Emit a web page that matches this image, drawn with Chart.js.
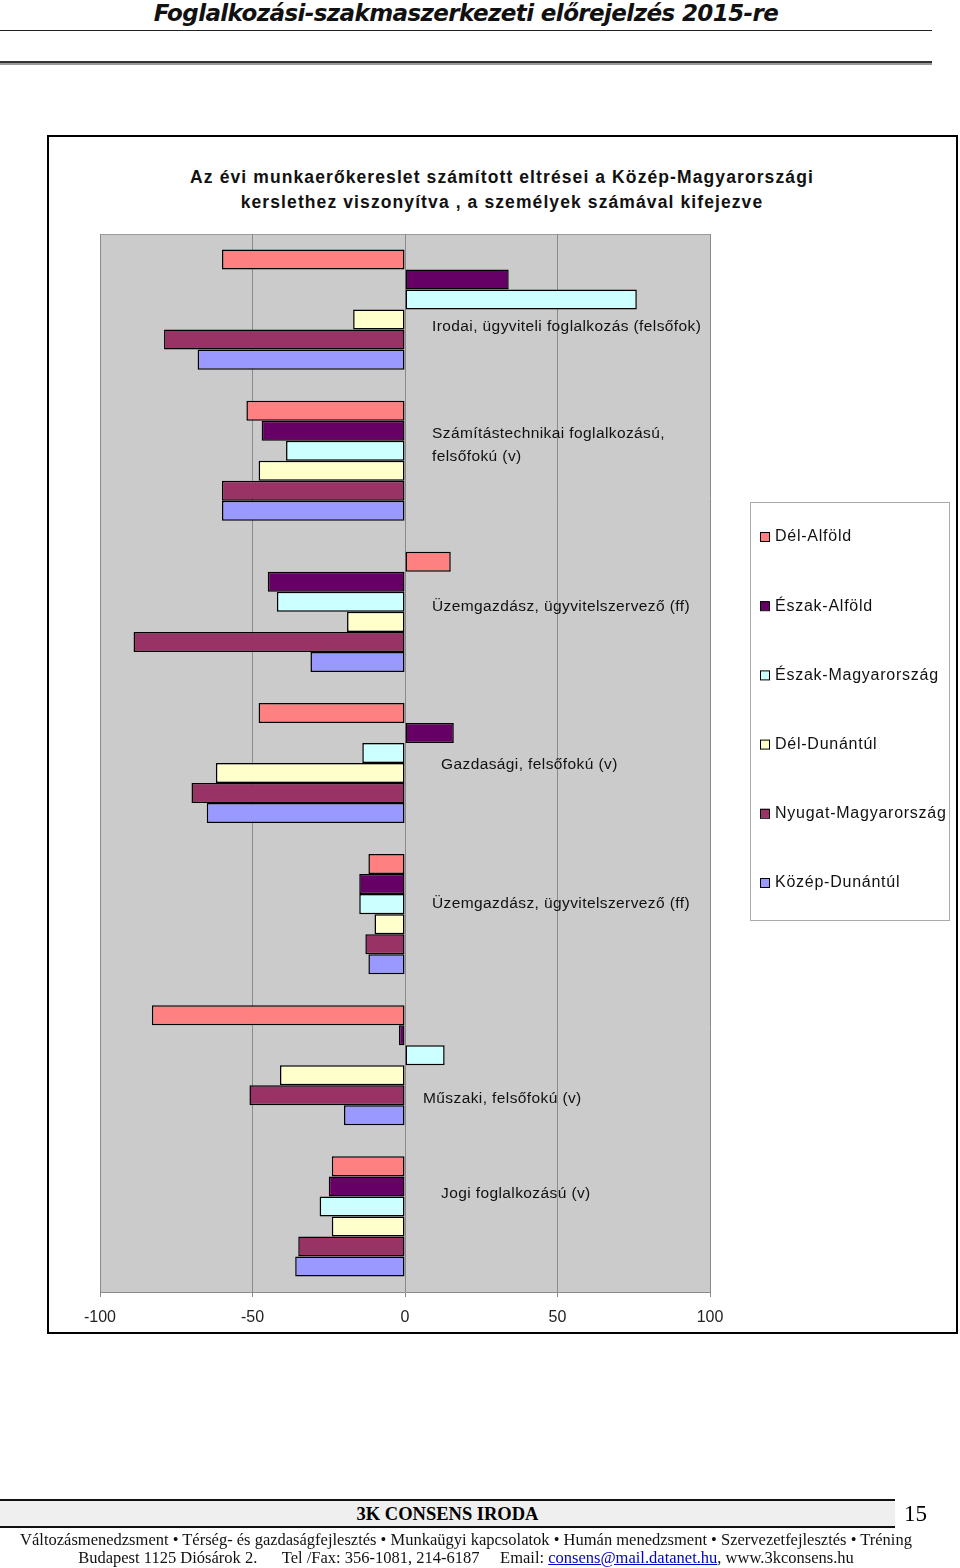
<!DOCTYPE html>
<html lang="hu">
<head>
<meta charset="utf-8">
<script src="https://cdn.jsdelivr.net/npm/chart.js@4"></script>
<style>
  html, body { margin: 0; padding: 0; background: #fff; }
  body { width: 960px; height: 1568px; position: relative; overflow: hidden; font-family: "Liberation Sans", Arial, sans-serif; }
  .head { position: absolute; left: 0; width: 932px; top: 0; text-align: center; font: italic bold 23px "DejaVu Sans", sans-serif; color: #111; letter-spacing: -0.6px; }
  .rule1 { position: absolute; left: 0; top: 30px; width: 932px; height: 1px; background: #222; }
  .rule2 { position: absolute; left: 0; top: 61px; width: 932px; height: 2px; background: #333; border-bottom: 2px solid #999; }
  .box { position: absolute; left: 47px; top: 135px; width: 907px; height: 1195px; border: 2px solid #000; }
  .title { position: absolute; left: 100px; width: 804px; top: 165px; text-align: center; font: bold 17.5px "Liberation Sans", Arial, sans-serif; line-height: 25px; color: #111; letter-spacing: 1.1px; }
  canvas { position: absolute; left: 0; top: 0; }
  .foot { position: absolute; left: 0; top: 1499px; width: 895px; height: 25px; background: #efefef; border-top: 2px solid #111; border-bottom: 2px solid #111; text-align: center; font: bold 18.5px "Liberation Serif", serif; line-height: 27px; }
  .pg { position: absolute; left: 904px; top: 1501px; font: 23px "Liberation Serif", serif; }
  .addr { position: absolute; left: 0; width: 932px; text-align: center; font: 16.5px "Liberation Serif", serif; color: #111; white-space: pre; }
  .addr a { color: #00c; text-decoration: underline; }
</style>
</head>
<body>
<div class="head">Foglalkozási-szakmaszerkezeti előrejelzés 2015-re</div>
<div class="rule1"></div>
<div class="rule2"></div>
<div class="box"></div>
<div class="title">Az évi  munkaerőkereslet számított  eltrései a Közép-Magyarországi<br>kerslethez viszonyítva , a személyek számával kifejezve</div>
<canvas id="c" width="960" height="1568"></canvas>
<div class="foot">3K CONSENS IRODA</div>
<div class="pg">15</div>
<div class="addr" style="top:1530px">Változásmenedzsment • Térség- és gazdaságfejlesztés • Munkaügyi kapcsolatok • Humán menedzsment • Szervezetfejlesztés • Tréning</div>
<div class="addr" style="top:1548px">Budapest 1125 Diósárok 2.      Tel /Fax: 356-1081, 214-6187     Email: <a>consens@mail.datanet.hu</a>, www.3kconsens.hu</div>

<script>
// categories (top to bottom)
const categories = [
    ['Irodai, ügyviteli foglalkozás (felsőfok)'],
    ['Számítástechnikai foglalkozású,', 'felsőfokú (v)'],
    ['Üzemgazdász, ügyvitelszervező (ff)'],
    ['Gazdasági, felsőfokú (v)'],
    ['Üzemgazdász, ügyvitelszervező (ff)'],
    ['Műszaki, felsőfokú (v)'],
    ['Jogi foglalkozású (v)']
];

// series (regions)
const delAlfold       = [-60, -52, 15, -48, -12, -83, -24];
const eszakAlfold     = [34, -47, -45, 16, -15, -2, -25];
const eszakMagyar     = [76, -39, -42, -14, -15, 13, -28];
const delDunantul     = [-17, -48, -19, -62, -10, -41, -24];
const nyugatMagyar    = [-79, -60, -89, -70, -13, -51, -35];
const kozepDunantul   = [-68, -60, -31, -65, -12, -20, -36];

const xTicks = [-100, -50, 0, 50, 100];

// label placement tweaks (dx from zero line, dy from category centre)
const labelDx = [27, 27, 27, 36, 27, 18, 36];
const labelDy = [17, -15, -5, 2, -10, 33, -23];

const series = [
    { label: 'Dél-Alföld', data: delAlfold, color: '#ff8080' },
    { label: 'Észak-Alföld', data: eszakAlfold, color: '#660066' },
    { label: 'Észak-Magyarország', data: eszakMagyar, color: '#ccffff' },
    { label: 'Dél-Dunántúl', data: delDunantul, color: '#ffffcc' },
    { label: 'Nyugat-Magyarország', data: nyugatMagyar, color: '#993366' },
    { label: 'Közép-Dunántúl', data: kozepDunantul, color: '#9999ff' }
];

const plotBg = {
    id: 'plotBg',
    beforeDraw(chart) {
        const { ctx, chartArea: a } = chart;
        ctx.save();
        ctx.fillStyle = '#cbcbcb';
        ctx.fillRect(a.left, a.top, a.right - a.left, a.bottom - a.top);
        ctx.strokeStyle = '#9a9a9a';
        ctx.lineWidth = 1;
        ctx.beginPath();
        ctx.moveTo(a.left + 0.5, a.bottom);
        ctx.lineTo(a.left + 0.5, a.top + 0.5);
        ctx.lineTo(a.right, a.top + 0.5);
        ctx.stroke();
        ctx.restore();
    }
};

const catLabels = {
    id: 'catLabels',
    afterDatasetsDraw(chart) {
        const { ctx } = chart;
        const xs = chart.scales.x, ys = chart.scales.y;
        const x0 = xs.getPixelForValue(0);
        ctx.save();
        ctx.font = '15.5px "Liberation Sans", Arial, sans-serif';
        ctx.letterSpacing = '0.4px';
        ctx.fillStyle = '#111';
        ctx.textBaseline = 'middle';
        ctx.textAlign = 'left';
        categories.forEach((lines, i) => {
            const cy = ys.getPixelForValue(i) + labelDy[i];
            const lh = 23;
            const y1 = cy - (lines.length - 1) * lh / 2;
            lines.forEach((t, j) => ctx.fillText(t, x0 + labelDx[i], y1 + j * lh));
        });
        ctx.restore();

        // legend
        const L = 750, T = 502, W = 199, H = 418;
        ctx.save();
        ctx.fillStyle = '#fff';
        ctx.fillRect(L, T, W, H);
        ctx.strokeStyle = '#aaa';
        ctx.lineWidth = 1;
        ctx.strokeRect(L + 0.5, T + 0.5, W, H);
        ctx.font = '16px "Liberation Sans", Arial, sans-serif';
        ctx.letterSpacing = '0.75px';
        ctx.textBaseline = 'middle';
        chart.data.datasets.forEach((ds, i) => {
            const y = 536 + i * 69.2;
            ctx.fillStyle = ds.backgroundColor;
            ctx.fillRect(760, y - 4, 9, 9);
            ctx.strokeStyle = '#000';
            ctx.strokeRect(760.5, y - 3.5, 9, 9);
            ctx.fillStyle = '#111';
            ctx.fillText(ds.label, 775, y + 1);
        });
        ctx.restore();
    }
};

new Chart(document.getElementById('c'), {
    type: 'bar',
    data: {
        labels: categories.map(c => c.join(' ')),
        datasets: series.map(s => ({
            label: s.label,
            data: s.data,
            backgroundColor: s.color,
            borderColor: '#000',
            borderWidth: 1.5,
            borderSkipped: false,
            barPercentage: 1,
            categoryPercentage: 0.795
        }))
    },
    options: {
        indexAxis: 'y',
        responsive: false,
        animation: false,
        layout: { padding: { left: 100, right: 250, top: 234, bottom: 236 } },
        plugins: { legend: { display: false }, tooltip: { enabled: false } },
        scales: {
            y: { display: false },
            x: {
                min: -100, max: 100,
                afterBuildTicks: s => { s.ticks = xTicks.map(v => ({ value: v })); },
                afterFit: s => { s.height = 40; },
                grid: { color: '#8a8a8a', lineWidth: 1, tickLength: 5, tickColor: '#8a8a8a' },
                border: { color: '#8a8a8a' },
                ticks: { color: '#222', font: { size: 16, family: '"Liberation Sans", Arial, sans-serif' }, padding: 11 }
            }
        }
    },
    plugins: [plotBg, catLabels]
});
</script>
</body>
</html>
